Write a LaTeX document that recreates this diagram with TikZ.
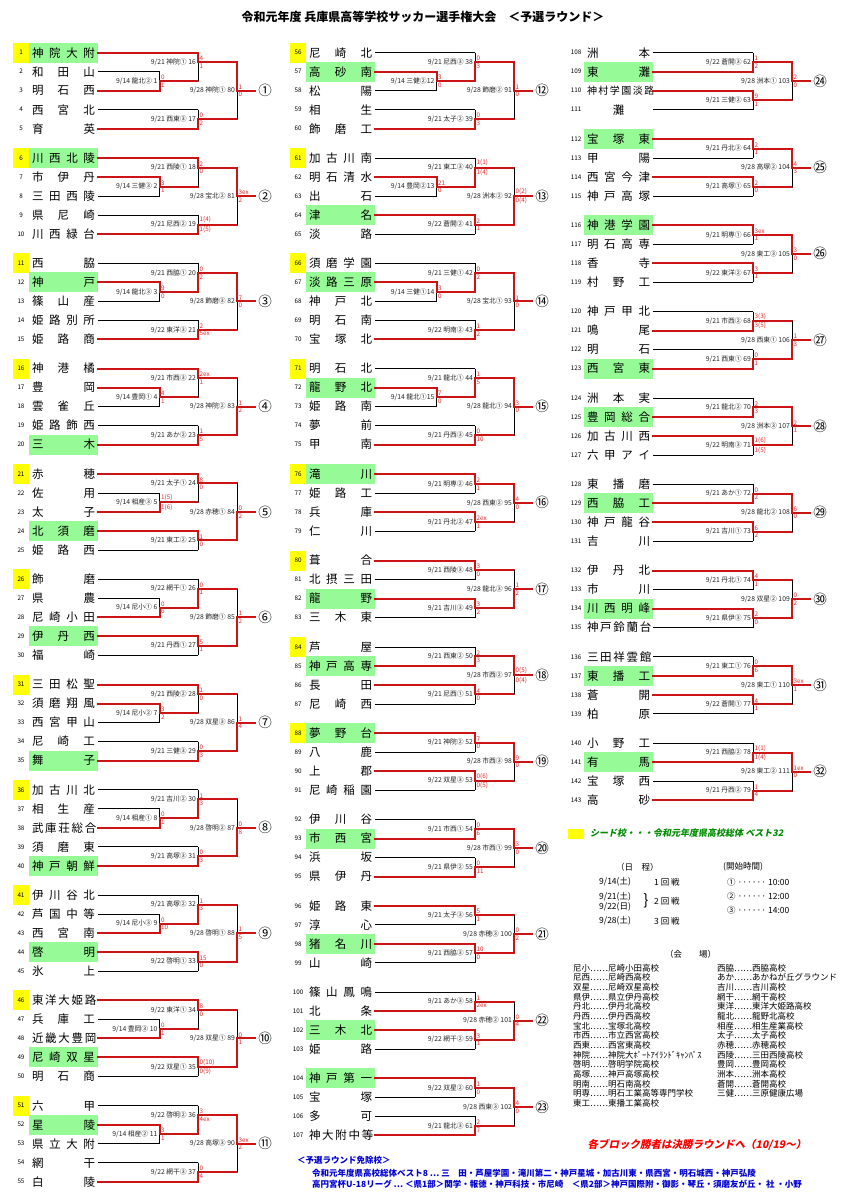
\documentclass[tikz,border=0pt]{standalone}
\usepackage{fontspec}
\setmainfont{Noto Sans CJK JP}
\newfontfamily\jpit[FakeSlant=0.2]{Noto Sans CJK JP}
\definecolor{winred}{RGB}{205,20,20}
\definecolor{scred}{RGB}{230,40,40}
\definecolor{seedy}{RGB}{255,255,0}
\definecolor{seedg}{RGB}{150,250,150}
\definecolor{legg}{RGB}{0,140,0}
\definecolor{legb}{RGB}{0,0,210}
\tikzset{
 win/.style={draw=winred,line width=2pt,line cap=rect},
 lose/.style={draw=black,line width=0.7pt},
 lab/.style={font=\fontsize{6.8}{7}\selectfont,text=black!85,inner sep=0.5pt},
 sc/.style={font=\fontsize{6.3}{6.5}\selectfont,text=scred,inner sep=0.3pt},
 nm/.style={font=\fontsize{11.5}{12}\selectfont,inner sep=0pt},
 num/.style={font=\fontsize{6.3}{7}\selectfont,inner sep=0pt},
 circ/.style={font=\fontsize{13.5}{14}\selectfont,inner sep=0pt},
 leg/.style={font=\fontsize{8.5}{9}\selectfont,inner sep=0pt,anchor=west},
 ven/.style={font=\fontsize{8.5}{9}\selectfont,inner sep=0pt,anchor=west},
 foot/.style={font=\fontsize{8.5}{9}\selectfont\bfseries,text=legb,inner sep=0pt,anchor=west}
}
\def\segW#1#2{\draw[win] #1 -- #2;}
\def\segL#1#2{\draw[lose] #1 -- #2;}
\newcommand\bmatch[6]{%
 \if#6t\let\segT\segW\let\segB\segL\else\let\segT\segL\let\segB\segW\fi
 \ifx&#1&\else\segT{(#1,\MT)}{(\MX,\MT)}\fi
 \ifx&#2&\else\segB{(#2,\MB)}{(\MX,\MB)}\fi
 \segT{(\MX,\MT)}{(\MX,\MO)}\segB{(\MX,\MO)}{(\MX,\MB)}
 \draw[win] (\MX,\MO) -- (\MN,\MO);
 \node[lab,anchor=east] at (\MX-1.5,\MO) {#3};
 \node[sc,anchor=south west] at (\MX+1.2,\MO-0.8) {#4};
 \node[sc,anchor=north west] at (\MX+1.2,\MO+1.2) {#5};
}
\newcommand\setx[1]{%
 \pgfmathsetmacro\xs{#1+98}\pgfmathsetmacro\xa{#1+159.5}\pgfmathsetmacro\xb{#1+198}%
 \pgfmathsetmacro\xc{#1+237}\pgfmathsetmacro\xo{#1+255}}
\newcommand\blkA[7]{%
 \setx{#1}%
 \pgfmathsetmacro\ya{#2}\pgfmathsetmacro\yb{#2+19}\pgfmathsetmacro\yc{#2+38}%
 \pgfmathsetmacro\yd{#2+57}\pgfmathsetmacro\ye{#2+76}%
 \edef\MX{\xa}\edef\MT{\yb}\edef\MB{\yc}\pgfmathsetmacro\MO{#2+28.5}\edef\MN{\xb}%
 \bmatch{\xs}{\xs}#3%
 \edef\MX{\xb}\edef\MT{\ya}\pgfmathsetmacro\MB{#2+28.5}\pgfmathsetmacro\MO{#2+9.5}\edef\MN{\xc}%
 \bmatch{\xs}{}#4%
 \edef\MT{\yd}\edef\MB{\ye}\pgfmathsetmacro\MO{#2+66.5}%
 \bmatch{\xs}{\xs}#5%
 \edef\MX{\xc}\pgfmathsetmacro\MT{#2+9.5}\pgfmathsetmacro\MB{#2+66.5}\edef\MO{\yc}\edef\MN{\xo}%
 \bmatch{}{}#6%
 \node[circ] at (#1+265,\yc) {#7};
}
\newcommand\blkB[6]{%
 \setx{#1}%
 \pgfmathsetmacro\ya{#2}\pgfmathsetmacro\yb{#2+19}\pgfmathsetmacro\yc{#2+38}\pgfmathsetmacro\yd{#2+57}%
 \edef\MX{\xb}\edef\MT{\ya}\edef\MB{\yb}\pgfmathsetmacro\MO{#2+9.5}\edef\MN{\xc}%
 \bmatch{\xs}{\xs}#3%
 \edef\MT{\yc}\edef\MB{\yd}\pgfmathsetmacro\MO{#2+47.5}%
 \bmatch{\xs}{\xs}#4%
 \edef\MX{\xc}\pgfmathsetmacro\MT{#2+9.5}\pgfmathsetmacro\MB{#2+47.5}\pgfmathsetmacro\MO{#2+28.5}\edef\MN{\xo}%
 \bmatch{}{}#5%
 \node[circ] at (#1+265,#2+28.5) {#6};
}
\newcommand\bteam[6]{%
 \pgfmathsetmacro\ty{#2+19*#3}%
 \ifodd#6 \fill[seedy] (#1+13,\ty-10) rectangle (#1+29,\ty+10);\fi
 \ifnum#6>1 \fill[seedg] (#1+29,\ty-10) rectangle (#1+98,\ty+10);\fi
 \node[num] (t#4) at (#1+21,\ty) {#4};
 \node[nm] (n#4) at (#1+63.5,\ty) {\makebox[63pt][s]{#5}};
}
\begin{document}
\begin{tikzpicture}[x=1pt,y=-1pt]
\fill[white] (0,0) rectangle (847,1200);
\useasboundingbox (0,0) rectangle (847,1200);
\node[font=\fontsize{12}{13}\selectfont\bfseries] (title) at (423,17) {令和元年度 兵庫県高等学校サッカー選手権大会　＜予選ラウンド＞};
% ---------- column 1 teams
\bteam{0}{52.7}{0}{1}{神 院 大 附}{3}\bteam{0}{52.7}{1}{2}{和 田 山}{0}\bteam{0}{52.7}{2}{3}{明 石 西}{0}\bteam{0}{52.7}{3}{4}{西 宮 北}{0}\bteam{0}{52.7}{4}{5}{育 英}{0}
\bteam{0}{158}{0}{6}{川 西 北 陵}{3}\bteam{0}{158}{1}{7}{市 伊 丹}{0}\bteam{0}{158}{2}{8}{三 田 西 陵}{0}\bteam{0}{158}{3}{9}{県 尼 崎}{0}\bteam{0}{158}{4}{10}{川 西 緑 台}{0}
\bteam{0}{263.3}{0}{11}{西 脇}{1}\bteam{0}{263.3}{1}{12}{神 戸}{2}\bteam{0}{263.3}{2}{13}{篠 山 産}{0}\bteam{0}{263.3}{3}{14}{姫 路 別 所}{0}\bteam{0}{263.3}{4}{15}{姫 路 商}{0}
\bteam{0}{368.6}{0}{16}{神 港 橘}{1}\bteam{0}{368.6}{1}{17}{豊 岡}{0}\bteam{0}{368.6}{2}{18}{雲 雀 丘}{0}\bteam{0}{368.6}{3}{19}{姫 路 飾 西}{0}\bteam{0}{368.6}{4}{20}{三 木}{2}
\bteam{0}{473.9}{0}{21}{赤 穂}{1}\bteam{0}{473.9}{1}{22}{佐 用}{0}\bteam{0}{473.9}{2}{23}{太 子}{0}\bteam{0}{473.9}{3}{24}{北 須 磨}{2}\bteam{0}{473.9}{4}{25}{姫 路 西}{0}
\bteam{0}{579.2}{0}{26}{飾 磨}{1}\bteam{0}{579.2}{1}{27}{県 農}{0}\bteam{0}{579.2}{2}{28}{尼 崎 小 田}{0}\bteam{0}{579.2}{3}{29}{伊 丹 西}{2}\bteam{0}{579.2}{4}{30}{福 崎}{0}
\bteam{0}{684.5}{0}{31}{三 田 松 聖}{1}\bteam{0}{684.5}{1}{32}{須 磨 翔 風}{0}\bteam{0}{684.5}{2}{33}{西 宮 甲 山}{0}\bteam{0}{684.5}{3}{34}{尼 崎 工}{0}\bteam{0}{684.5}{4}{35}{舞 子}{2}
\bteam{0}{789.8}{0}{36}{加 古 川 北}{1}\bteam{0}{789.8}{1}{37}{相 生 産}{0}\bteam{0}{789.8}{2}{38}{武 庫 荘 総 合}{0}\bteam{0}{789.8}{3}{39}{須 磨 東}{0}\bteam{0}{789.8}{4}{40}{神 戸 朝 鮮}{2}
\bteam{0}{895.1}{0}{41}{伊 川 谷 北}{1}\bteam{0}{895.1}{1}{42}{芦 国 中 等}{0}\bteam{0}{895.1}{2}{43}{西 宮 南}{0}\bteam{0}{895.1}{3}{44}{啓 明}{2}\bteam{0}{895.1}{4}{45}{氷 上}{0}
\bteam{0}{1000.4}{0}{46}{東 洋 大 姫 路}{1}\bteam{0}{1000.4}{1}{47}{兵 庫 工}{0}\bteam{0}{1000.4}{2}{48}{近 畿 大 豊 岡}{0}\bteam{0}{1000.4}{3}{49}{尼 崎 双 星}{2}\bteam{0}{1000.4}{4}{50}{明 石 商}{0}
\bteam{0}{1105.7}{0}{51}{六 甲}{1}\bteam{0}{1105.7}{1}{52}{星 陵}{2}\bteam{0}{1105.7}{2}{53}{県 立 大 附}{0}\bteam{0}{1105.7}{3}{54}{網 干}{0}\bteam{0}{1105.7}{4}{55}{白 陵}{0}
% ---------- column 1 brackets
\blkA{0}{52.7}{{9/14 龍北② 1}{0}{1}{b}}{{9/21 神院① 16}{4}{1}{t}}{{9/21 西東③ 17}{0}{2}{b}}{{9/28 神院① 80}{1}{0}{t}}{①}
\blkA{0}{158}{{9/14 三健③ 2}{3}{1}{t}}{{9/21 西陵① 18}{2}{0}{t}}{{9/21 尼西② 19}{1(4)}{1(5)}{b}}{{9/28 宝北② 81}{3ex}{2}{t}}{②}
\blkA{0}{263.3}{{9/14 龍北③ 3}{9}{0}{t}}{{9/21 西脇① 20}{0}{2}{b}}{{9/22 東洋③ 21}{2}{5ex}{b}}{{9/28 飾磨③ 82}{7}{0}{t}}{③}
\blkA{0}{368.6}{{9/14 豊岡① 4}{4}{1}{t}}{{9/21 市西③ 22}{2ex}{1}{t}}{{9/21 あか② 23}{1}{5}{b}}{{9/28 神院② 83}{1}{2}{b}}{④}
\blkA{0}{473.9}{{9/14 相産③ 5}{1(5)}{1(6)}{b}}{{9/21 太子① 24}{8}{0}{t}}{{9/21 東工② 25}{1}{0}{t}}{{9/28 赤穂① 84}{0}{2}{b}}{⑤}
\blkA{0}{579.2}{{9/14 尼小① 6}{0}{6}{b}}{{9/22 網干① 26}{0}{1}{b}}{{9/21 丹西① 27}{5}{1}{t}}{{9/28 飾磨① 85}{1}{2}{b}}{⑥}
\blkA{0}{684.5}{{9/14 尼小② 7}{3}{2}{t}}{{9/21 西陵② 28}{1}{0}{t}}{{9/21 三健③ 29}{0}{3}{b}}{{9/28 双星③ 86}{1}{4}{b}}{⑦}
\blkA{0}{789.8}{{9/14 相産① 8}{0}{1}{b}}{{9/21 吉川② 30}{1}{3}{b}}{{9/21 高塚③ 31}{0}{3}{b}}{{9/28 啓明② 87}{0}{8}{b}}{⑧}
\blkA{0}{895.1}{{9/14 尼小③ 9}{0}{10}{b}}{{9/21 高塚② 32}{1}{3}{b}}{{9/22 啓明① 33}{15}{0}{t}}{{9/28 啓明① 88}{1}{5}{b}}{⑨}
\blkA{0}{1000.4}{{9/14 豊岡③ 10}{0}{1}{b}}{{9/22 東洋① 34}{8}{0}{t}}{{9/22 双星① 35}{0(10)}{0(9)}{t}}{{9/28 双星① 89}{0}{1}{b}}{⑩}
\blkA{0}{1105.7}{{9/14 相産② 11}{3}{1}{t}}{{9/22 啓明② 36}{3}{4ex}{b}}{{9/22 網干③ 37}{0}{4}{b}}{{9/28 高塚③ 90}{3ex}{2}{t}}{⑪}
% ---------- column 2 teams
\bteam{277}{52.7}{0}{56}{尼 崎 北}{1}\bteam{277}{52.7}{1}{57}{高 砂 南}{2}\bteam{277}{52.7}{2}{58}{松 陽}{0}\bteam{277}{52.7}{3}{59}{相 生}{0}\bteam{277}{52.7}{4}{60}{飾 磨 工}{0}
\bteam{277}{158}{0}{61}{加 古 川 南}{1}\bteam{277}{158}{1}{62}{明 石 清 水}{0}\bteam{277}{158}{2}{63}{出 石}{0}\bteam{277}{158}{3}{64}{津 名}{2}\bteam{277}{158}{4}{65}{淡 路}{0}
\bteam{277}{263.3}{0}{66}{須 磨 学 園}{1}\bteam{277}{263.3}{1}{67}{淡 路 三 原}{2}\bteam{277}{263.3}{2}{68}{神 戸 北}{0}\bteam{277}{263.3}{3}{69}{明 石 南}{0}\bteam{277}{263.3}{4}{70}{宝 塚 北}{0}
\bteam{277}{368.6}{0}{71}{明 石 北}{1}\bteam{277}{368.6}{1}{72}{龍 野 北}{2}\bteam{277}{368.6}{2}{73}{姫 路 南}{0}\bteam{277}{368.6}{3}{74}{夢 前}{0}\bteam{277}{368.6}{4}{75}{甲 南}{0}
\bteam{277}{474.3}{0}{76}{滝 川}{3}\bteam{277}{474.3}{1}{77}{姫 路 工}{0}\bteam{277}{474.3}{2}{78}{兵 庫}{0}\bteam{277}{474.3}{3}{79}{仁 川}{0}
\bteam{277}{560.6}{0}{80}{葺 合}{1}\bteam{277}{560.6}{1}{81}{北 摂 三 田}{0}\bteam{277}{560.6}{2}{82}{龍 野}{2}\bteam{277}{560.6}{3}{83}{三 木 東}{0}
\bteam{277}{646.9}{0}{84}{芦 屋}{1}\bteam{277}{646.9}{1}{85}{神 戸 高 専}{2}\bteam{277}{646.9}{2}{86}{長 田}{0}\bteam{277}{646.9}{3}{87}{尼 崎 西}{0}
\bteam{277}{733.2}{0}{88}{夢 野 台}{3}\bteam{277}{733.2}{1}{89}{八 鹿}{0}\bteam{277}{733.2}{2}{90}{上 郡}{0}\bteam{277}{733.2}{3}{91}{尼 崎 稲 園}{0}
\bteam{277}{819.5}{0}{92}{伊 川 谷}{0}\bteam{277}{819.5}{1}{93}{市 西 宮}{2}\bteam{277}{819.5}{2}{94}{浜 坂}{0}\bteam{277}{819.5}{3}{95}{県 伊 丹}{0}
\bteam{277}{905.8}{0}{96}{姫 路 東}{0}\bteam{277}{905.8}{1}{97}{淳 心}{0}\bteam{277}{905.8}{2}{98}{猪 名 川}{2}\bteam{277}{905.8}{3}{99}{山 崎}{0}
\bteam{277}{992.1}{0}{100}{篠 山 鳳 鳴}{0}\bteam{277}{992.1}{1}{101}{北 条}{0}\bteam{277}{992.1}{2}{102}{三 木 北}{2}\bteam{277}{992.1}{3}{103}{姫 路}{0}
\bteam{277}{1078.4}{0}{104}{神 戸 第 一}{2}\bteam{277}{1078.4}{1}{105}{宝 塚}{0}\bteam{277}{1078.4}{2}{106}{多 可}{0}\bteam{277}{1078.4}{3}{107}{神 大 附 中 等}{0}
% ---------- column 2 brackets
\blkA{277}{52.7}{{9/14 三健②12}{3}{0}{t}}{{9/21 尼西③ 38}{0}{3}{b}}{{9/21 太子② 39}{0}{3}{b}}{{9/28 飾磨② 91}{1}{0}{t}}{⑫}
\blkA{277}{158}{{9/14 豊岡②13}{21}{0}{t}}{{9/21 東工③ 40}{1(1)}{1(4)}{b}}{{9/22 蒼開② 41}{2}{1}{t}}{{9/28 洲本② 92}{0(2)}{0(4)}{b}}{⑬}
\blkA{277}{263.3}{{9/14 三健①14}{3}{0}{t}}{{9/21 三健① 42}{0}{2}{b}}{{9/22 明南② 43}{1}{2}{b}}{{9/28 宝北① 93}{1}{0}{t}}{⑭}
\blkA{277}{368.6}{{9/14 龍北①15}{7}{0}{t}}{{9/21 龍北① 44}{1}{5}{b}}{{9/21 丹西③ 45}{0}{10}{b}}{{9/28 龍北① 94}{3}{0}{t}}{⑮}
\blkB{277}{474.3}{{9/21 明専② 46}{2}{1}{t}}{{9/21 丹北② 47}{2ex}{1}{t}}{{9/28 西東② 95}{4}{0}{t}}{⑯}
\blkB{277}{560.6}{{9/21 西陵③ 48}{3}{0}{t}}{{9/21 吉川③ 49}{3}{2}{t}}{{9/28 龍北③ 96}{1}{2}{b}}{⑰}
\blkB{277}{646.9}{{9/21 西東② 50}{2}{3}{b}}{{9/21 尼西① 51}{4}{0}{t}}{{9/28 市西② 97}{0(5)}{0(4)}{t}}{⑱}
\blkB{277}{733.2}{{9/21 神院② 52}{7}{0}{t}}{{9/22 双星③ 53}{0(6)}{0(5)}{t}}{{9/28 市西③ 98}{9}{0}{t}}{⑲}
\blkB{277}{819.5}{{9/21 市西① 54}{0}{6}{b}}{{9/21 県伊② 55}{0}{11}{b}}{{9/28 市西① 99}{3}{0}{t}}{⑳}
\blkB{277}{905.8}{{9/21 太子③ 56}{5}{1}{t}}{{9/21 西脇③ 57}{10}{0}{t}}{{9/28 赤穂③ 100}{0}{2}{b}}{㉑}
\blkB{277}{992.1}{{9/21 あか③ 58}{1}{2ex}{b}}{{9/22 網干② 59}{3}{1}{t}}{{9/28 赤穂② 101}{0}{4}{b}}{㉒}
\blkB{277}{1078.4}{{9/22 双星② 60}{1}{0}{t}}{{9/21 龍北③ 61}{2}{7}{b}}{{9/28 西東③ 102}{4}{0}{t}}{㉓}
% ---------- column 3 teams
\bteam{555}{52.7}{0}{108}{洲 本}{0}\bteam{555}{52.7}{1}{109}{東 灘}{2}\bteam{555}{52.7}{2}{110}{\fontsize{10}{10}\selectfont 神 村 学 園 淡 路}{0}\bteam{555}{52.7}{3}{111}{\hfil 灘\hfil}{0}
\bteam{555}{139}{0}{112}{宝 塚 東}{2}\bteam{555}{139}{1}{113}{甲 陽}{0}\bteam{555}{139}{2}{114}{西 宮 今 津}{0}\bteam{555}{139}{3}{115}{神 戸 高 塚}{0}
\bteam{555}{225.3}{0}{116}{神 港 学 園}{2}\bteam{555}{225.3}{1}{117}{明 石 高 専}{0}\bteam{555}{225.3}{2}{118}{香 寺}{0}\bteam{555}{225.3}{3}{119}{村 野 工}{0}
\bteam{555}{311.6}{0}{120}{神 戸 甲 北}{0}\bteam{555}{311.6}{1}{121}{鳴 尾}{0}\bteam{555}{311.6}{2}{122}{明 石}{0}\bteam{555}{311.6}{3}{123}{西 宮 東}{2}
\bteam{555}{397.9}{0}{124}{洲 本 実}{0}\bteam{555}{397.9}{1}{125}{豊 岡 総 合}{2}\bteam{555}{397.9}{2}{126}{加 古 川 西}{0}\bteam{555}{397.9}{3}{127}{六 甲 ア イ}{0}
\bteam{555}{484.2}{0}{128}{東 播 磨}{0}\bteam{555}{484.2}{1}{129}{西 脇 工}{2}\bteam{555}{484.2}{2}{130}{神 戸 龍 谷}{0}\bteam{555}{484.2}{3}{131}{吉 川}{0}
\bteam{555}{570.5}{0}{132}{伊 丹 北}{0}\bteam{555}{570.5}{1}{133}{市 川}{0}\bteam{555}{570.5}{2}{134}{川 西 明 峰}{2}\bteam{555}{570.5}{3}{135}{神 戸 鈴 蘭 台}{0}
\bteam{555}{656.8}{0}{136}{三 田 祥 雲 館}{0}\bteam{555}{656.8}{1}{137}{東 播 工}{2}\bteam{555}{656.8}{2}{138}{蒼 開}{0}\bteam{555}{656.8}{3}{139}{柏 原}{0}
\bteam{555}{743.1}{0}{140}{小 野 工}{0}\bteam{555}{743.1}{1}{141}{有 馬}{2}\bteam{555}{743.1}{2}{142}{宝 塚 西}{0}\bteam{555}{743.1}{3}{143}{高 砂}{0}
% ---------- column 3 brackets
\blkB{555}{52.7}{{9/22 蒼開③ 62}{1}{2}{b}}{{9/21 三健② 63}{9}{1}{t}}{{9/28 洲本① 103}{2}{0}{t}}{㉔}
\blkB{555}{139}{{9/21 丹北③ 64}{2}{1}{t}}{{9/21 高塚① 65}{2}{0}{t}}{{9/28 高塚② 104}{4}{3}{t}}{㉕}
\blkB{555}{225.3}{{9/21 明専① 66}{3ex}{1}{t}}{{9/22 東洋② 67}{3}{1}{t}}{{9/28 東工③ 105}{3}{0}{t}}{㉖}
\blkB{555}{311.6}{{9/21 市西② 68}{3(3)}{3(5)}{b}}{{9/21 西東① 69}{0}{1}{b}}{{9/28 西東① 106}{1}{3}{b}}{㉗}
\blkB{555}{397.9}{{9/21 龍北② 70}{2}{3}{b}}{{9/22 明南③ 71}{1(6)}{1(5)}{t}}{{9/28 洲本③ 107}{2}{1}{t}}{㉘}
\blkB{555}{484.2}{{9/21 あか① 72}{0}{2}{b}}{{9/21 吉川① 73}{6}{2}{t}}{{9/28 龍北② 108}{6}{0}{t}}{㉙}
\blkB{555}{570.5}{{9/21 丹北① 74}{4}{1}{t}}{{9/21 県伊③ 75}{2}{0}{t}}{{9/28 双星② 109}{0}{2}{b}}{㉚}
\blkB{555}{656.8}{{9/21 東工① 76}{0}{6}{b}}{{9/22 蒼開① 77}{4}{1}{t}}{{9/28 東工① 110}{3ex}{1}{t}}{㉛}
\blkB{555}{743.1}{{9/21 西脇② 78}{1(1)}{1(4)}{b}}{{9/21 丹西② 79}{1}{4}{b}}{{9/28 東工② 111}{1ex}{0}{t}}{㉜}
% ---------- legend
\fill[seedy] (568,829) rectangle (584,839);
\node[anchor=west,inner sep=0pt,text=legg,font=\fontsize{9}{10}\selectfont\bfseries\jpit] (seedtxt) at (590,833) {シード校・・・令和元年度県高校総体 ベスト32};
\node[leg] (nittei) at (616,867) {（日　程）};
\node[leg] (d1) at (599,882) {9/14(土)};
\node[leg] (r1) at (654,882) {1 回 戦};
\node[leg] (d2) at (599,897) {9/21(土)};
\node[leg] (d3) at (599,907) {9/22(日)};
\node[inner sep=0pt,font=\fontsize{15}{15}\selectfont] (br) at (646,901) {\}};
\node[leg] (r2) at (654,901) {2 回 戦};
\node[leg] (d4) at (599,921) {9/28(土)};
\node[leg] (r3) at (654,921) {3 回 戦};
\node[leg] (kaishi) at (723,867) {(開始時間)};
\node[leg] (k1) at (727,882) {① ······ 10:00};
\node[leg] (k2) at (727,896) {② ······ 12:00};
\node[leg] (k3) at (727,910) {③ ······ 14:00};
\node[leg] (kaijo) at (665,954) {（会　　場）};
\foreach \i/\t in {0/尼小……尼崎小田高校,1/尼西……尼崎西高校,2/双星……尼崎双星高校,3/県伊……県立伊丹高校,4/丹北……伊丹北高校,5/丹西……伊丹西高校,6/宝北……宝塚北高校,7/市西……市立西宮高校,8/西東……西宮東高校,9/神院……神院大ﾎﾟｰﾄｱｲﾗﾝﾄﾞｷｬﾝﾊﾟｽ,10/啓明……啓明学院高校,11/高塚……神戸高塚高校,12/明南……明石南高校,13/明専……明石工業高等専門学校,14/東工……東播工業高校}
  \node[ven] (vl\i) at (573,968+9.65*\i) {\t};
\foreach \i/\t in {0/西脇……西脇高校,1/あか……あかねが丘グラウンド,2/吉川……吉川高校,3/網干……網干高校,4/東洋……東洋大姫路高校,5/龍北……龍野北高校,6/相産……相生産業高校,7/太子……太子高校,8/赤穂……赤穂高校,9/西陵……三田西陵高校,10/豊岡……豊岡高校,11/洲本……洲本高校,12/蒼開……蒼開高校,13/三健……三原健康広場}
  \node[ven] (vr\i) at (717,968+9.65*\i) {\t};
\node[inner sep=0pt,text=red,font=\fontsize{10.5}{11}\selectfont\bfseries\jpit] (final) at (697,1145) {各ブロック勝者は決勝ラウンドへ（10/19～）};
\node[foot] (menjo) at (297,1160) {＜予選ラウンド免除校＞};
\node[foot] (f1) at (312,1173) {令和元年度県高校総体ベスト8 … 三　田・芦屋学園・滝川第二・神戸星城・加古川東・県西宮・明石城西・神戸弘陵};
\node[foot] (f2) at (312,1184) {高円宮杯U-18リーグ … ＜県1部＞関学・報徳・神戸科技・市尼崎　＜県2部＞神戸国際附・御影・琴丘・須磨友が丘・ 社 ・小野};
\end{tikzpicture}
\end{document}
